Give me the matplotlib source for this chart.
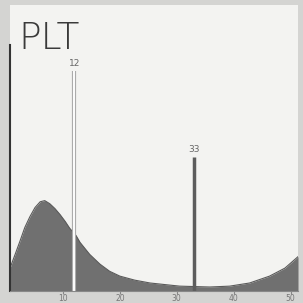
import matplotlib
matplotlib.use("Agg")
import matplotlib.pyplot as plt

# PLT volume histogram (fL vs relative count)
volume = [0.7, 1.6, 2.5, 3.3, 4.2, 5.1, 6.0, 6.8, 7.7, 8.6, 9.5, 10.4, 11.2, 12.3,
          13.0, 14.7, 16.5, 18.2, 20.0, 22.6, 25.3, 30.5, 35.8, 39.3, 42.8, 46.3,
          49.0, 51.3]
count = [8, 12.8, 17.7, 22.2, 26, 29.2, 31.2, 31.6, 30.5, 28.8, 26.7, 24.3, 21.9, 19.4,
         17, 12.8, 9.4, 6.9, 5.2, 3.8, 2.8, 1.7, 1.4, 1.7, 2.8, 5.2,
         8, 12]

markers = [12, 33]
marker_tops = [77, 47]
marker_labels = ["12", "33"]

ticks = [10, 20, 30, 40, 50]
tick_labels = ["10", "20", "30", "40", "50"]

fig = plt.figure(figsize=(3.03, 3.03), dpi=100, facecolor="#d4d4d2")
ax = fig.add_axes([10 / 303, 12 / 303, 288 / 303, 286 / 303])
ax.set_facecolor("#f3f3f1")

ax.fill_between(volume, count, 0, color="#707070", lw=0)
ax.plot(volume, count, color="#5a5a5a", lw=0.8)

# discriminator lines
ax.vlines(markers[0], 0, marker_tops[0], color="#a8a8a8", lw=3)
ax.vlines(markers[0], 0, marker_tops[0], color="#fafafa", lw=1.5)
ax.vlines(markers[1], 0, marker_tops[1], color="#5c5c5c", lw=2.5)
for m, t, lab in zip(markers, marker_tops, marker_labels):
    ax.text(m, t + 1, lab, ha="center", va="bottom", fontsize=6.5, color="#666666")

ax.text(2.2, 94.5, "PLT", ha="left", va="top", fontsize=27, color="#3a3a3a",
        fontfamily="DejaVu Sans", fontweight="light")

ax.set_xlim(0.7, 51.3)
ax.set_ylim(0, 100)
ax.set_xticks(ticks)
ax.set_xticklabels(tick_labels, fontsize=5.5, color="#777777")
ax.tick_params(axis="x", length=2, pad=0.5, color="#888888")
ax.set_yticks([])

for s in ["top", "right"]:
    ax.spines[s].set_visible(False)
ax.spines["left"].set_color("#333333")
ax.spines["left"].set_linewidth(1.5)
ax.spines["left"].set_bounds(0, 86)
ax.spines["bottom"].set_color("#888888")

fig.savefig("out.png", dpi=100, facecolor=fig.get_facecolor())
